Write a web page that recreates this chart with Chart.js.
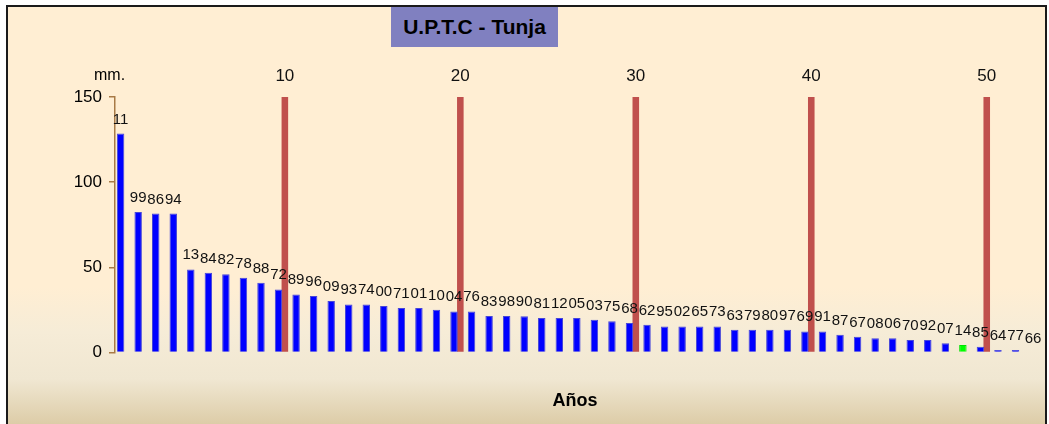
<!DOCTYPE html>
<html>
<head>
<meta charset="utf-8">
<title>U.P.T.C - Tunja</title>
<script src="https://cdn.jsdelivr.net/npm/chart.js@4/dist/chart.umd.min.js"></script>
<style>
  html, body { margin: 0; padding: 0; background: #fff; overflow: hidden; }
  #wrap { position: relative; width: 1049px; height: 424px; overflow: hidden; font-family: "Liberation Sans", Arial, sans-serif; }
  #frame {
    position: absolute; left: 6px; top: 5px; width: 1037px; height: 440px;
    border: 2px solid #1a1a1a;
    background: linear-gradient(to bottom, #FFEED3 0px, #FFEED3 280px, #F6ECD7 325px, #F0E7D2 372px, #DBCAA4 421px);
  }
  #chart { position: absolute; left: 0; top: 0; }
  #titulo {
    position: absolute; left: 391px; top: 7px; width: 167px; height: 40px;
    background: #8080C0; color: #000; font-weight: bold; font-size: 21px;
    line-height: 40px; text-align: center;
  }
  #unidad { position: absolute; left: 94px; top: 66px; font-size: 16px; color: #000; }
  #ejeX { position: absolute; left: 500px; width: 150px; top: 390px; text-align: center; font-weight: bold; font-size: 18px; color: #000; }
</style>
</head>
<body>
<div id="wrap">
  <div id="frame"></div>
  <canvas id="chart" width="1049" height="424"></canvas>
  <div id="titulo">U.P.T.C - Tunja</div>
  <div id="unidad">mm.</div>
  <div id="ejeX">Años</div>
</div>
<script>
// años (etiqueta de cada barra), ordenados de mayor a menor lluvia
const anios = ['11', '99', '86', '94', '13', '84', '82', '78', '88', '72',
  '89', '96', '09', '93', '74', '00', '71', '01', '10', '04',
  '76', '83', '98', '90', '81', '12', '05', '03', '75', '68',
  '62', '95', '02', '65', '73', '63', '79', '80', '97', '69',
  '91', '87', '67', '08', '06', '70', '92', '07', '14', '85',
  '64', '77', '66'];

// precipitacion (mm)
const lluvia = [128.5, 82.5, 81.6, 81.6, 48.8, 46.8, 46.0, 43.9, 40.9, 37.0,
  34.1, 33.1, 30.2, 28.2, 28.2, 27.3, 26.1, 26.1, 25.1, 24.1,
  24.1, 21.4, 21.4, 21.3, 20.2, 20.2, 20.2, 19.2, 18.3, 17.3,
  16.3, 15.3, 15.3, 15.3, 15.3, 13.4, 13.4, 13.4, 13.4, 12.4,
  12.4, 10.4, 9.3, 8.3, 8.3, 7.3, 7.3, 5.4, 4.4, 3.4,
  1.5, 1.5, 0];

// marcas cada 10 puestos
const marcas = [10, 20, 30, 40, 50];
const alturaMarca = 150;
const anioResaltado = '14';

const yTicks = [0, 50, 100, 150];

// serie de marcas: solo tiene valor en los puestos de la lista
const serieMarcas = anios.map((a, i) => marcas.includes(i + 1) ? alturaMarca : null);
const textoMarcas = anios.map((a, i) => marcas.includes(i + 1) ? String(i + 1) : '');

const FUENTE = '"Liberation Sans", Arial, sans-serif';

// etiquetas encima de cada barra
const etiquetas = {
  id: 'etiquetas',
  afterDatasetsDraw(chart) {
    const ctx = chart.ctx;
    ctx.save();
    ctx.textAlign = 'center';
    ctx.textBaseline = 'alphabetic';
    ctx.fillStyle = '#111';
    chart.data.datasets.forEach((ds, i) => {
      const meta = chart.getDatasetMeta(i);
      ctx.font = ds.etiquetaFuente + 'px ' + FUENTE;
      meta.data.forEach((bar, j) => {
        const txt = ds.textos[j];
        if (!txt) return;
        ctx.fillText(txt, bar.x, bar.y - ds.etiquetaSep);
      });
    });
    ctx.restore();
  }
};

const ctx = document.getElementById('chart').getContext('2d');
new Chart(ctx, {
  type: 'bar',
  data: {
    labels: anios,
    datasets: [{
      label: 'mm',
      data: lluvia,
      textos: anios,
      etiquetaFuente: 15,
      etiquetaSep: 10,
      backgroundColor: (c) => anios[c.dataIndex] === anioResaltado ? '#00FF00' : '#0000FF',
      borderColor: (c) => anios[c.dataIndex] === anioResaltado ? '#00E000' : '#4646D8',
      borderWidth: 1,
      categoryPercentage: 0.72,
      barPercentage: 1.18
    }, {
      label: 'puesto',
      data: serieMarcas,
      textos: textoMarcas,
      etiquetaFuente: 17,
      etiquetaSep: 16,
      backgroundColor: '#C0504D',
      borderWidth: 0,
      categoryPercentage: 0.72,
      barPercentage: 1.04
    }]
  },
  options: {
    responsive: false,
    animation: false,
    devicePixelRatio: 1,
    layout: { padding: { left: 0, top: 97, right: 4, bottom: 71.5 } },
    plugins: {
      legend: { display: false },
      tooltip: { enabled: false }
    },
    scales: {
      x: { display: false },
      y: {
        min: 0,
        max: 150,
        afterBuildTicks: (s) => { s.ticks = yTicks.map(v => ({ value: v })); },
        afterFit: (s) => { s.width = 115; },
        ticks: { color: '#000', padding: 7, font: { family: FUENTE, size: 17 } },
        grid: { drawOnChartArea: false, color: '#A87A46', tickLength: 6, lineWidth: 1.5 },
        border: { color: '#A87A46', width: 1.5 }
      }
    }
  },
  plugins: [etiquetas]
});
</script>
</body>
</html>
